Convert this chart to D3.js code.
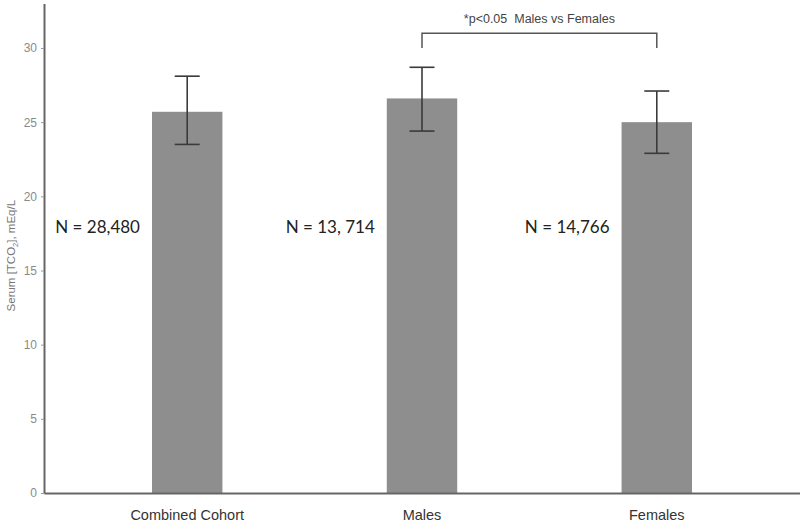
<!DOCTYPE html>
<meta charset="utf-8">
<html>
    <head>
        <script src="https://d3js.org/d3.v7.min.js"></script>
    </head>
    <style>
        body { margin: 0; background: #fff; }
    </style>
    <body>
        <div id="bar_viz"></div>
        <script>

            var groups = ["Combined Cohort", "Males", "Females"];
            var means = [25.7, 26.6, 25.0];
            var upper = [28.1, 28.7, 27.1];
            var lower = [23.5, 24.4, 22.9];
            var nLabels = ["N = 28,480", "N = 13, 714", "N = 14,766"];
            var yTicks = [0, 5, 10, 15, 20, 25, 30];

            var width = 800, height = 527;

            var svg = d3.select("#bar_viz")
                .append("svg")
                .attr("width", width)
                .attr("height", height);

            // scales
            var x = d3.scaleBand()
                .domain(groups)
                .range([44, 800])
                .paddingInner(0.7)
                .paddingOuter(0.46);

            var y = d3.scaleLinear()
                .domain([0, 33])
                .range([493, 3.5]);

            // bars
            svg.append("g")
                .selectAll("rect")
                .data(groups)
                .join("rect")
                .attr("x", d => x(d))
                .attr("y", (d, i) => y(means[i]))
                .attr("width", x.bandwidth())
                .attr("height", (d, i) => y(0) - y(means[i]))
                .attr("fill", "#8e8e8e");

            // error bars
            var cx = d => x(d) + x.bandwidth() / 2;
            var err = svg.append("g")
                .attr("stroke", "#3a3a3a")
                .attr("stroke-width", 1.6);
            err.selectAll("line.v")
                .data(groups)
                .join("line")
                .attr("class", "v")
                .attr("x1", cx).attr("x2", cx)
                .attr("y1", (d, i) => y(upper[i]))
                .attr("y2", (d, i) => y(lower[i]));
            err.selectAll("line.top")
                .data(groups)
                .join("line")
                .attr("class", "top")
                .attr("x1", d => cx(d) - 12.5).attr("x2", d => cx(d) + 12.5)
                .attr("y1", (d, i) => y(upper[i]))
                .attr("y2", (d, i) => y(upper[i]));
            err.selectAll("line.bot")
                .data(groups)
                .join("line")
                .attr("class", "bot")
                .attr("x1", d => cx(d) - 12.5).attr("x2", d => cx(d) + 12.5)
                .attr("y1", (d, i) => y(lower[i]))
                .attr("y2", (d, i) => y(lower[i]));

            // N labels
            svg.append("g")
                .attr("font-family", "Lato, 'Open Sans', sans-serif")
                .attr("font-size", 17)
                .attr("fill", "#222")
                .attr("text-anchor", "end")
                .selectAll("text")
                .data(nLabels)
                .join("text")
                .attr("x", (d, i) => x(groups[i]) - 12)
                .attr("y", y(17.9))
                .attr("dy", "0.35em")
                .text(d => d);

            // y axis
            var yAxis = svg.append("g")
                .attr("transform", "translate(44,0)")
                .call(d3.axisLeft(y).tickValues(yTicks).tickSize(3).tickSizeOuter(0).tickPadding(4));
            yAxis.select(".domain").attr("stroke", "#666").attr("stroke-width", 2);
            yAxis.selectAll(".tick line").attr("stroke", "#999");
            yAxis.selectAll(".tick text")
                .attr("fill", "#8a8a8a")
                .attr("font-family", "'Liberation Sans', Arial, sans-serif")
                .attr("font-size", 12);

            // x axis
            var xAxis = svg.append("g")
                .attr("transform", "translate(0,493)")
                .call(d3.axisBottom(x).tickSize(0).tickPadding(17));
            xAxis.select(".domain").attr("stroke", "#666").attr("stroke-width", 2);
            xAxis.selectAll(".tick text")
                .attr("fill", "#333")
                .attr("font-family", "'Liberation Sans', Arial, sans-serif")
                .attr("font-size", 14.5);

            // y axis title
            var yTitle = svg.append("text")
                .attr("transform", "translate(15," + y(16.0) + ") rotate(-90)")
                .attr("text-anchor", "middle")
                .attr("font-family", "'Liberation Sans', Arial, sans-serif")
                .attr("font-size", 11.5)
                .attr("fill", "#777");
            yTitle.append("tspan").text("Serum [TCO");
            yTitle.append("tspan").attr("font-size", 7.5).attr("dy", 3).text("2");
            yTitle.append("tspan").attr("dy", -3).text("], mEq/L");

            // significance bracket
            var x1 = cx("Males"), x2 = cx("Females");
            var bracketY = y(31.0), bracketDrop = y(30.0);
            svg.append("path")
                .attr("d", "M" + x1 + "," + bracketDrop + "V" + bracketY + "H" + x2 + "V" + bracketDrop)
                .attr("fill", "none")
                .attr("stroke", "#555")
                .attr("stroke-width", 1.5);
            svg.append("text")
                .attr("x", (x1 + x2) / 2)
                .attr("y", y(32.0))
                .attr("dy", "0.35em")
                .attr("text-anchor", "middle")
                .attr("font-family", "'Liberation Sans', Arial, sans-serif")
                .attr("font-size", 12.5)
                .attr("fill", "#444")
                .style("white-space", "pre")
                .text("*p<0.05  Males vs Females");

        </script>
    </body>
</html>
